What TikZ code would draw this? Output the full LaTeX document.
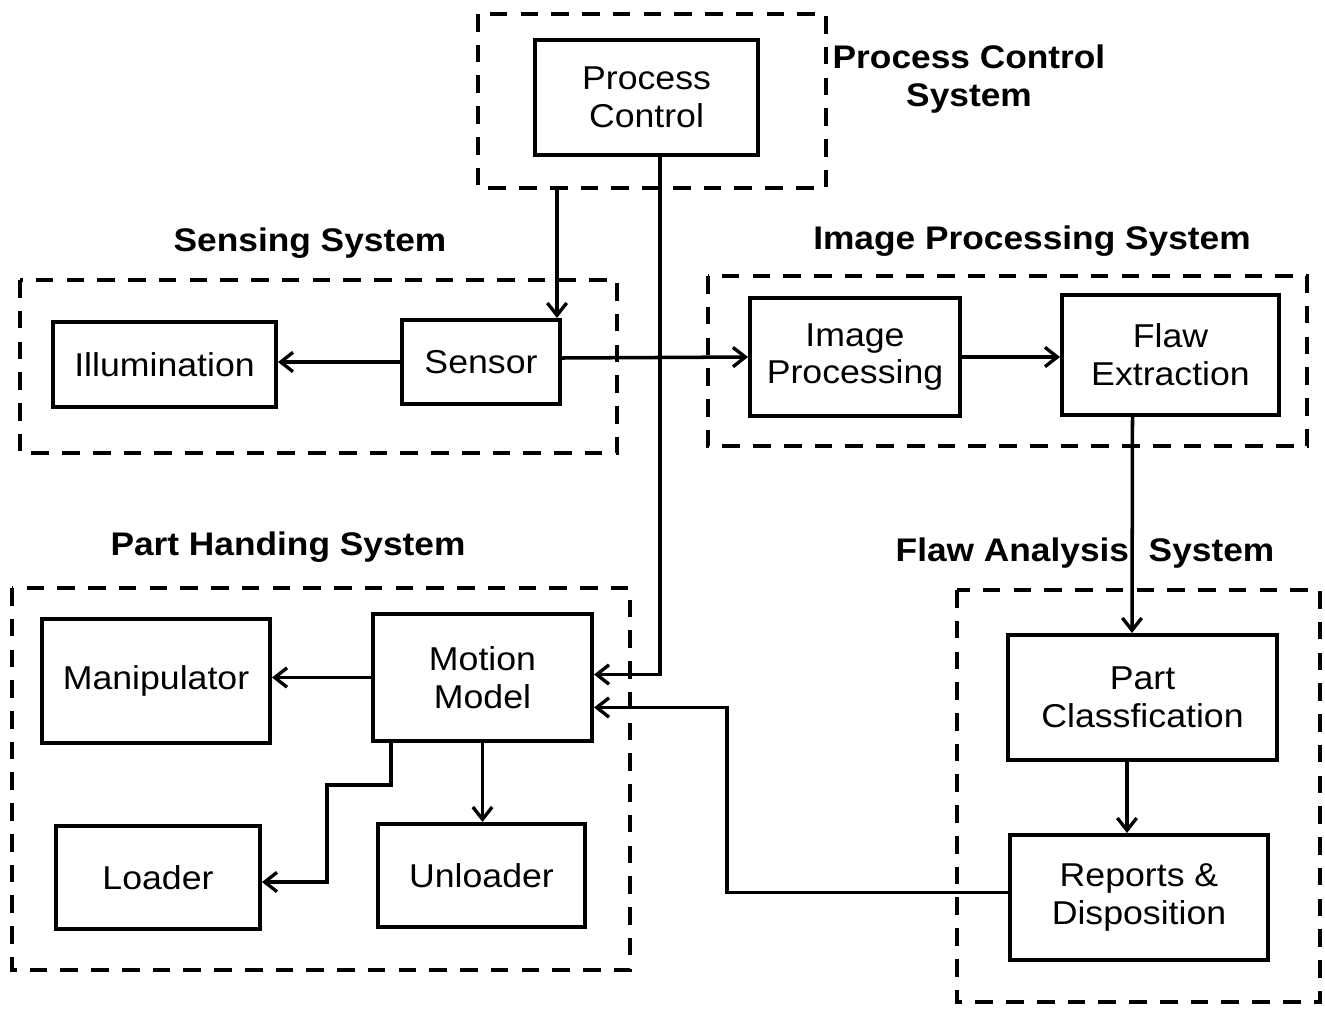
\documentclass[tikz,border=0pt]{standalone}
\usepackage{fontspec}
\setmainfont{Liberation Sans}[FakeStretch=1.08]
\usetikzlibrary{arrows.meta,calc}
\begin{document}
\begin{tikzpicture}[x=0.02cm,y=-0.02cm,
  box/.style={draw,line width=2.3pt,rectangle,inner sep=0pt,align=center,
    font=\fontsize{18.8}{21.5}\selectfont},
  grp/.style={draw,line width=2.1pt,dash pattern=on 10pt off 7.5pt},
  lbl/.style={font=\fontsize{18.6}{21.5}\selectfont\bfseries,align=center},
  arr/.style={line width=2pt,-{Straight Barb[length=7pt,width=11pt,line width=1.9pt]}},
  ln/.style={line width=2pt}]
\useasboundingbox (0,0) rectangle (1325,1008);
% groups
\draw[grp] (478,14) rectangle (826,188);
\coordinate (pcsbottom) at (557,188);
\draw[grp] (20,280) rectangle (617,453);
\draw[grp] (708,276) rectangle (1307,446);
\draw[grp] (12,588) rectangle (630,970);
\draw[grp] (957,590) rectangle (1320,1002);
% labels
\node[lbl] (lpcs) at (969,79) {Process Control\\System};
\node[lbl] (lsens) at (310,243) {Sensing System};
\node[lbl] (limg) at (1032,241) {Image Processing System};
\node[lbl] (lpart) at (288,547) {Part Handing System};
\node[lbl] (lflaw) at (1085,553) {Flaw Analysis\ \ System};
% boxes
\node[box,minimum width=223*0.02cm,minimum height=115*0.02cm] (pc) at (646.5,97.5) {Process\\Control};
\node[box,minimum width=223*0.02cm,minimum height=85*0.02cm] (illum) at (164.5,364.5) {Illumination};
\node[box,minimum width=158*0.02cm,minimum height=84*0.02cm] (sensor) at (481,362) {Sensor};
\node[box,minimum width=210*0.02cm,minimum height=118*0.02cm] (imgp) at (855,357) {Image\\Processing};
\node[box,minimum width=217*0.02cm,minimum height=120*0.02cm] (flaw) at (1170.5,355) {Flaw\\Extraction};
\node[box,minimum width=228*0.02cm,minimum height=124*0.02cm] (manip) at (156,681) {Manipulator};
\node[box,minimum width=219*0.02cm,minimum height=127*0.02cm] (motion) at (482.5,677.5) {Motion\\Model};
\node[box,minimum width=204*0.02cm,minimum height=103*0.02cm] (loader) at (158,877.5) {Loader};
\node[box,minimum width=207*0.02cm,minimum height=103*0.02cm] (unloader) at (481.5,875.5) {Unloader};
\node[box,minimum width=269*0.02cm,minimum height=125*0.02cm] (partc) at (1142.5,697.5) {Part\\Classfication};
\node[box,minimum width=258*0.02cm,minimum height=125*0.02cm] (reports) at (1139,897.5) {Reports \&\\Disposition};
% connectors
\draw[arr] (pcsbottom) -- (pcsbottom |- sensor.north);
\draw[arr] ($(pc.south)+(13.5,0)$) |- ($(motion.east)+(0,-3)$);
\draw[arr] (sensor.west) -- (sensor.west -| illum.east);
\draw[arr] ($(sensor.east)+(0,-4)$) -- (imgp.west);
\draw[arr] (imgp.east) -- (imgp.east -| flaw.west);
\draw[arr] ($(flaw.south)+(-38,0)$) -- ($(partc.north)+(-10.5,0)$);
\draw[arr] ($(partc.south)+(-15.5,0)$) -- ($(reports.north)+(-12,0)$);
\draw[arr] ($(reports.west)+(0,-5)$) -| ($(motion.east)+(133,30)$) -- ($(motion.east)+(0,30)$);
\draw[arr] (motion.west) -- (motion.west -| manip.east);
\draw[arr] (motion.south) -- (motion.south |- unloader.north);
\draw[arr] ($(motion.south west)+(20,0)$) -- ++(0,42) -| ($(loader.east)+(65,4.5)$) -- ($(loader.east)+(0,4.5)$);
\end{tikzpicture}
\end{document}
